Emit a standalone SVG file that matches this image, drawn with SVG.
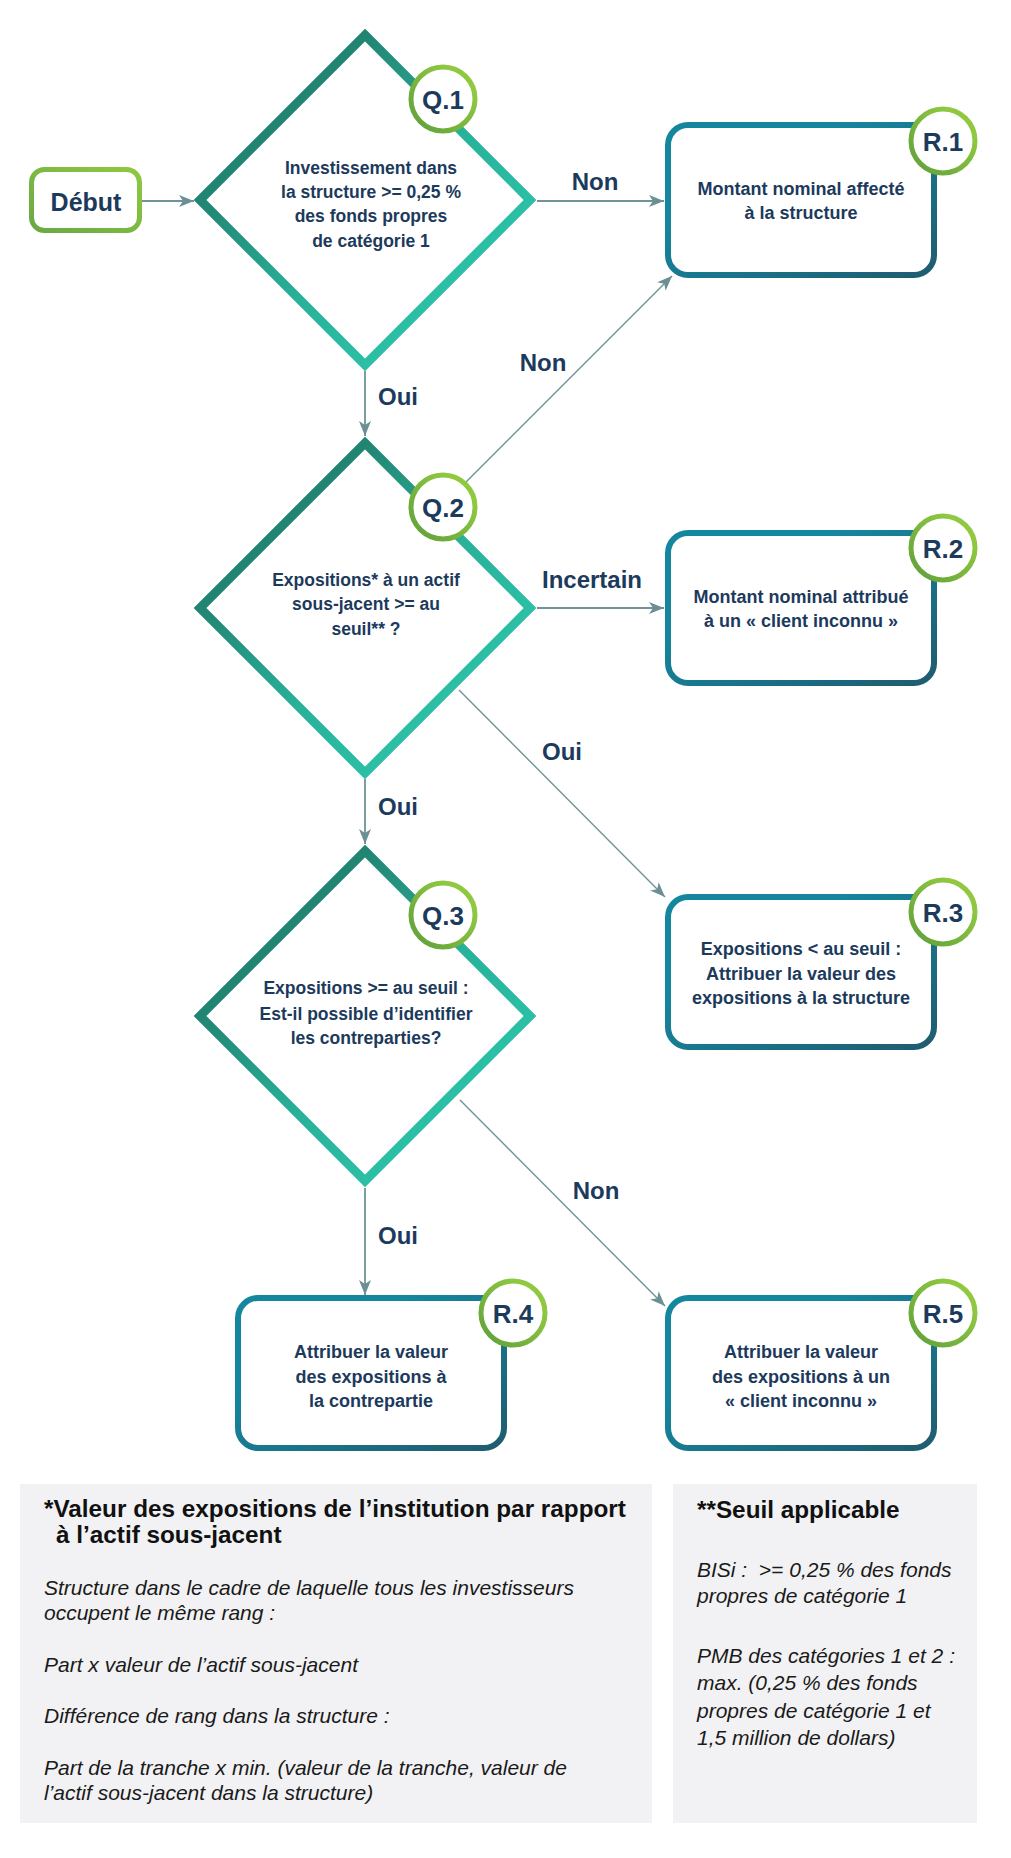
<svg xmlns="http://www.w3.org/2000/svg" width="1011" height="1858" viewBox="0 0 1011 1858">
  <defs>
    <linearGradient id="gDiamond" x1="0" y1="0" x2="1" y2="1">
      <stop offset="0.22" stop-color="#21806f"/>
      <stop offset="0.55" stop-color="#29b19a"/>
      <stop offset="0.8" stop-color="#2cc2a8"/>
    </linearGradient>
    <linearGradient id="gGreen" x1="1" y1="0" x2="0" y2="1">
      <stop offset="0.2" stop-color="#90c940"/>
      <stop offset="1" stop-color="#5f9f3b"/>
    </linearGradient>
    <linearGradient id="gDebut" x1="0" y1="1" x2="1" y2="0">
      <stop offset="0" stop-color="#6aa843"/>
      <stop offset="1" stop-color="#8fc940"/>
    </linearGradient>
    <linearGradient id="gBox" x1="0" y1="0" x2="1" y2="1">
      <stop offset="0.3" stop-color="#14879f"/>
      <stop offset="1" stop-color="#1f5c70"/>
    </linearGradient>
    <marker id="arr" markerUnits="userSpaceOnUse" markerWidth="16" markerHeight="13" refX="15" refY="6" orient="auto">
      <path d="M0,0 L15,6 L0,12 L4,6 Z" fill="#6b8f94"/>
    </marker>
  </defs>
  <style>
    .diamond { fill: #ffffff; stroke: url(#gDiamond); stroke-width: 9; stroke-linejoin: miter; }
    .badge { fill: #ffffff; stroke: url(#gGreen); stroke-width: 5; }
    .box { fill: #ffffff; stroke: url(#gBox); stroke-width: 6; }
    .start { fill: #ffffff; stroke: url(#gDebut); stroke-width: 5; }
    .conn { fill: none; stroke: #6f9397; stroke-width: 1.8; marker-end: url(#arr); }
    .conn-d { fill: none; stroke: #6f9397; stroke-width: 1.4; marker-end: url(#arr); }
    text { font-family: "Liberation Sans", Arial, sans-serif; fill: #1c3a5c; }
    .qt { font-size: 17.5px; font-weight: bold; text-anchor: middle; }
    .bt { font-size: 18px; font-weight: bold; text-anchor: middle; }
    .badge-t { font-size: 26px; font-weight: bold; text-anchor: middle; }
    .lbl { font-size: 24px; font-weight: bold; text-anchor: middle; }
    .panel { fill: #f2f2f4; }
    .ptitle { font-size: 24.3px; font-weight: bold; fill: #111111; }
    .pit { font-size: 21px; font-style: italic; fill: #1a1a1a; }
  </style>

  <g id="connectors">
    <path class="conn" d="M142,201 L194,201"/>
    <path class="conn" d="M537,201 L664,201"/>
    <path class="conn" d="M365,371 L365,436"/>
    <path class="conn-d" d="M466,482 L672,276"/>
    <path class="conn" d="M537,608 L664,608"/>
    <path class="conn-d" d="M459,690 L665,897"/>
    <path class="conn" d="M365,779 L365,844"/>
    <path class="conn" d="M365,1188 L365,1295"/>
    <path class="conn-d" d="M460,1100 L665,1306"/>
    <text class="lbl" x="595" y="190">Non</text>
    <text class="lbl" x="398" y="405">Oui</text>
    <text class="lbl" x="543" y="371">Non</text>
    <text class="lbl" x="592" y="588">Incertain</text>
    <text class="lbl" x="562" y="760">Oui</text>
    <text class="lbl" x="398" y="815">Oui</text>
    <text class="lbl" x="596" y="1199">Non</text>
    <text class="lbl" x="398" y="1244">Oui</text>
  </g>

  <g id="node-debut">
    <rect class="start" x="31.5" y="169.5" width="108" height="61" rx="13"/>
    <text x="86" y="211" style="font-size:25px;font-weight:bold;text-anchor:middle">Début</text>
  </g>

  <g id="node-q1">
    <path class="diamond" d="M365,35 L530,200 L365,365 L200,200 Z"/>
    <circle class="badge" cx="443" cy="99" r="32"/>
    <text class="badge-t" x="443" y="108.5">Q.1</text>
    <text class="qt" x="371" y="174">Investissement dans</text>
    <text class="qt" x="371" y="198">la structure &gt;= 0,25 %</text>
    <text class="qt" x="371" y="222">des fonds propres</text>
    <text class="qt" x="371" y="247">de catégorie 1</text>
  </g>

  <g id="node-q2">
    <path class="diamond" d="M365,443 L530,608 L365,773 L200,608 Z"/>
    <circle class="badge" cx="443" cy="507" r="32"/>
    <text class="badge-t" x="443" y="516.5">Q.2</text>
    <text class="qt" x="366" y="586">Expositions* à un actif</text>
    <text class="qt" x="366" y="610">sous-jacent &gt;= au</text>
    <text class="qt" x="366" y="635">seuil** ?</text>
  </g>

  <g id="node-q3">
    <path class="diamond" d="M365,851 L530,1016 L365,1181 L200,1016 Z"/>
    <circle class="badge" cx="443" cy="915" r="32"/>
    <text class="badge-t" x="443" y="924.5">Q.3</text>
    <text class="qt" x="366" y="994">Expositions &gt;= au seuil :</text>
    <text class="qt" x="366" y="1020">Est-il possible d’identifier</text>
    <text class="qt" x="366" y="1044">les contreparties?</text>
  </g>

  <g id="node-r1">
    <rect class="box" x="668" y="125" width="266" height="150" rx="20"/>
    <circle class="badge" cx="943" cy="141" r="32"/>
    <text class="badge-t" x="943" y="150.5">R.1</text>
    <text class="bt" x="801" y="195">Montant nominal affecté</text>
    <text class="bt" x="801" y="219">à la structure</text>
  </g>

  <g id="node-r2">
    <rect class="box" x="668" y="533" width="266" height="150" rx="20"/>
    <circle class="badge" cx="943" cy="548" r="32"/>
    <text class="badge-t" x="943" y="557.5">R.2</text>
    <text class="bt" x="801" y="603">Montant nominal attribué</text>
    <text class="bt" x="801" y="627">à un « client inconnu »</text>
  </g>

  <g id="node-r3">
    <rect class="box" x="668" y="897" width="266" height="150" rx="20"/>
    <circle class="badge" cx="943" cy="912" r="32"/>
    <text class="badge-t" x="943" y="921.5">R.3</text>
    <text class="bt" x="801" y="955">Expositions &lt; au seuil :</text>
    <text class="bt" x="801" y="980">Attribuer la valeur des</text>
    <text class="bt" x="801" y="1004">expositions à la structure</text>
  </g>

  <g id="node-r4">
    <rect class="box" x="238" y="1298" width="266" height="150" rx="20"/>
    <circle class="badge" cx="513" cy="1313" r="32"/>
    <text class="badge-t" x="513" y="1322.5">R.4</text>
    <text class="bt" x="371" y="1358">Attribuer la valeur</text>
    <text class="bt" x="371" y="1383">des expositions à</text>
    <text class="bt" x="371" y="1407">la contrepartie</text>
  </g>

  <g id="node-r5">
    <rect class="box" x="668" y="1298" width="266" height="150" rx="20"/>
    <circle class="badge" cx="943" cy="1313" r="32"/>
    <text class="badge-t" x="943" y="1322.5">R.5</text>
    <text class="bt" x="801" y="1358">Attribuer la valeur</text>
    <text class="bt" x="801" y="1383">des expositions à un</text>
    <text class="bt" x="801" y="1407">« client inconnu »</text>
  </g>

  <g id="note-exposures">
    <rect class="panel" x="20" y="1484" width="632" height="339"/>
    <text class="ptitle" x="44" y="1517">*Valeur des expositions de l’institution par rapport</text>
    <text class="ptitle" x="56" y="1543">à l’actif sous-jacent</text>
    <text class="pit" x="44" y="1595">Structure dans le cadre de laquelle tous les investisseurs</text>
    <text class="pit" x="44" y="1620">occupent le même rang :</text>
    <text class="pit" x="44" y="1672">Part x valeur de l’actif sous-jacent</text>
    <text class="pit" x="44" y="1723">Différence de rang dans la structure :</text>
    <text class="pit" x="44" y="1775">Part de la tranche x min. (valeur de la tranche, valeur de</text>
    <text class="pit" x="44" y="1800">l’actif sous-jacent dans la structure)</text>
  </g>

  <g id="note-threshold">
    <rect class="panel" x="673" y="1484" width="304" height="339"/>
    <text class="ptitle" x="697" y="1518">**Seuil applicable</text>
    <text class="pit" x="697" y="1577" xml:space="preserve">BISi :  &gt;= 0,25 % des fonds</text>
    <text class="pit" x="697" y="1603">propres de catégorie 1</text>
    <text class="pit" x="697" y="1663">PMB des catégories 1 et 2 :</text>
    <text class="pit" x="697" y="1690">max. (0,25 % des fonds</text>
    <text class="pit" x="697" y="1718">propres de catégorie 1 et</text>
    <text class="pit" x="697" y="1745">1,5 million de dollars)</text>
  </g>
</svg>
